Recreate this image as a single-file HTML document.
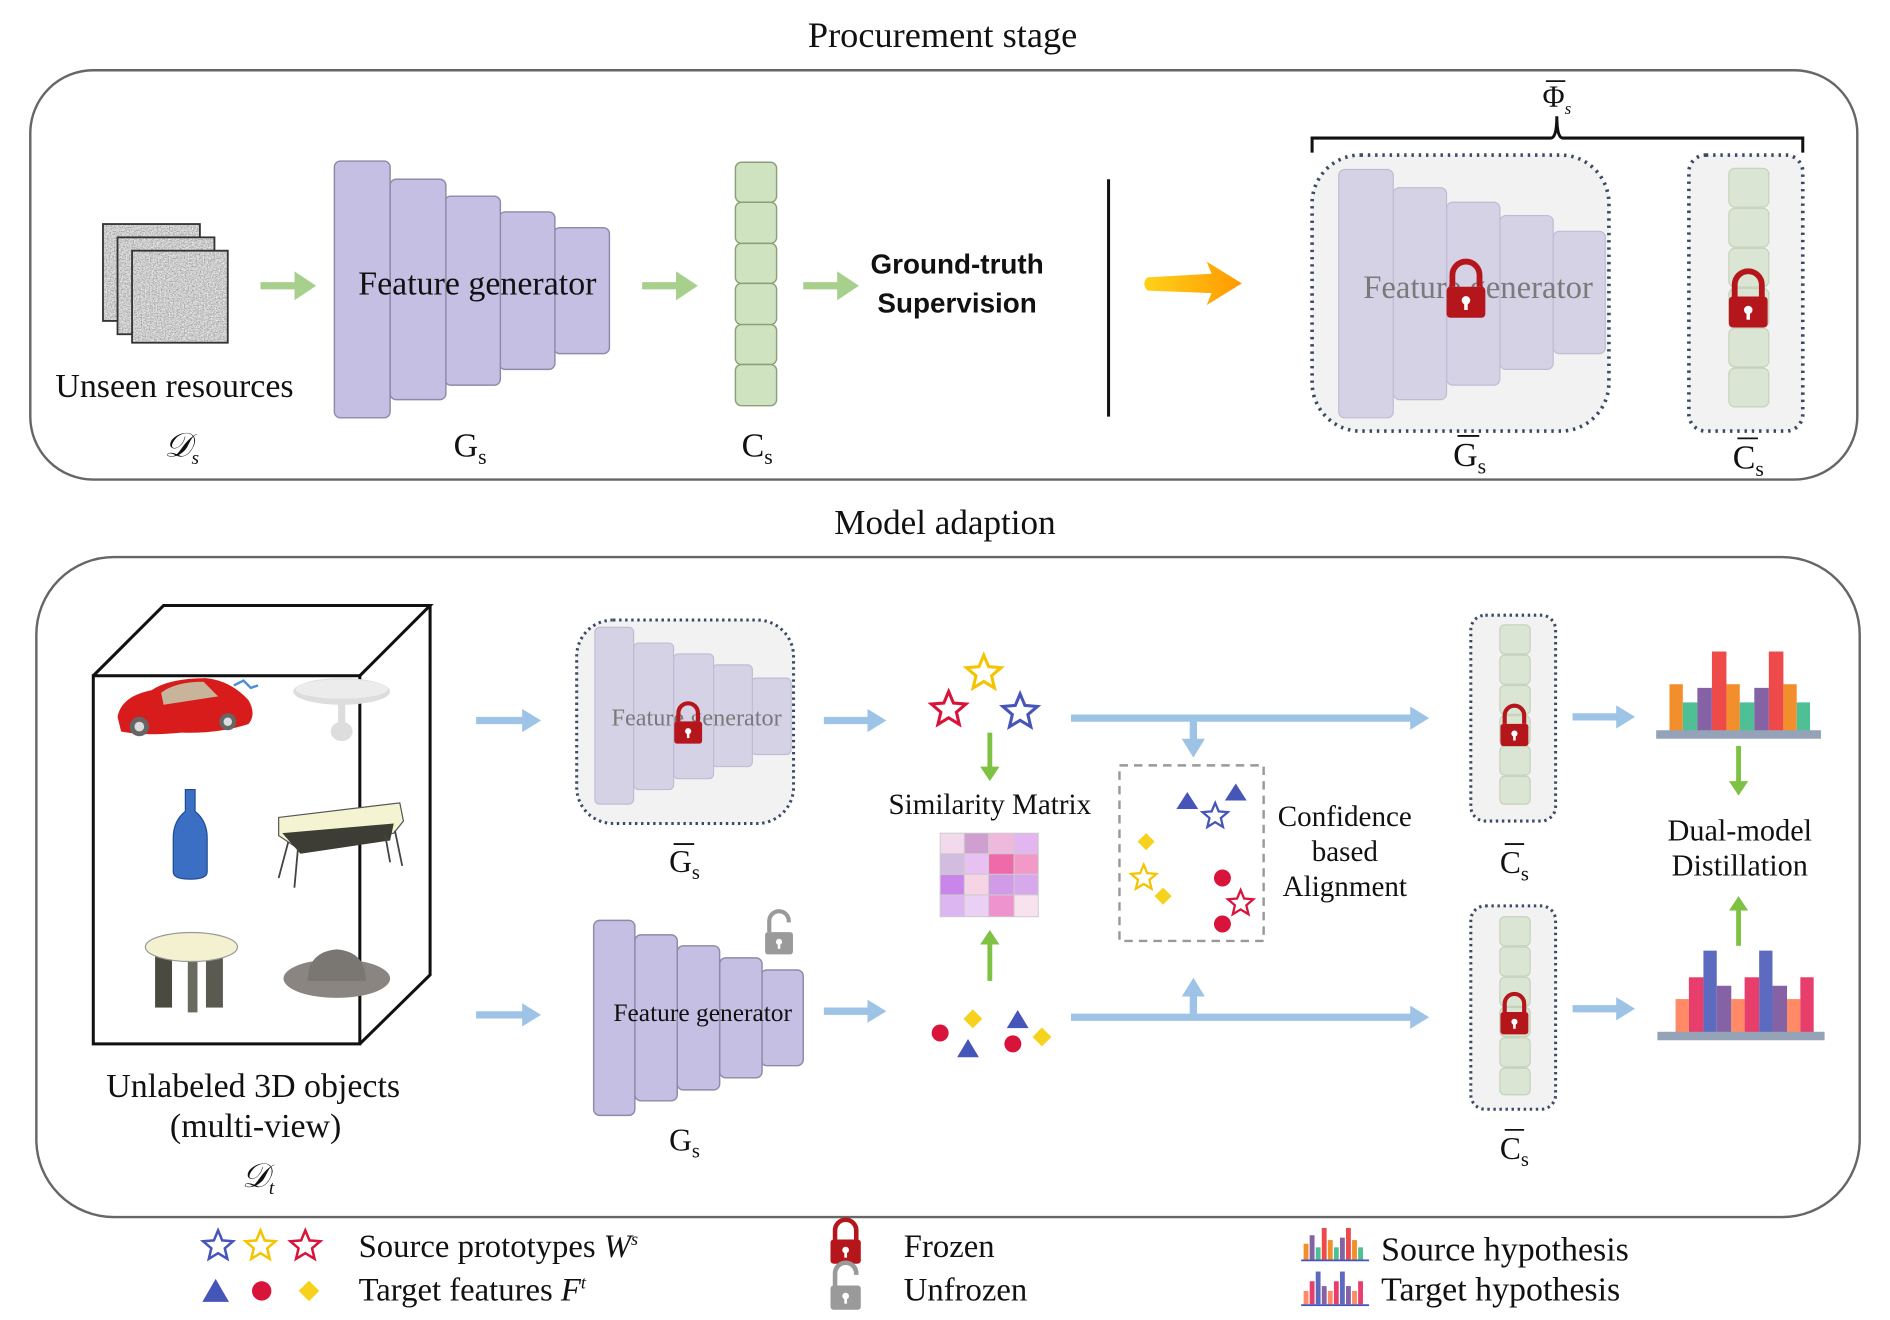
<!DOCTYPE html>
<html><head><meta charset="utf-8"><style>
html,body{margin:0;padding:0;background:#fff;}
svg{display:block;}
text{font-family:"Liberation Serif",serif;fill:#111;}
.sans{font-family:"Liberation Sans",sans-serif;}
</style></head><body>
<svg width="1890" height="1320" viewBox="0 0 1560 1090" preserveAspectRatio="none" xmlns="http://www.w3.org/2000/svg">
<defs>
<filter id="noise" x="0" y="0" width="100%" height="100%">
<feTurbulence type="fractalNoise" baseFrequency="0.9" numOctaves="2" seed="3"/>
<feColorMatrix type="saturate" values="0"/>
<feComponentTransfer><feFuncR type="linear" slope="1.3" intercept="-0.05"/><feFuncG type="linear" slope="1.3" intercept="-0.05"/><feFuncB type="linear" slope="1.3" intercept="-0.05"/><feFuncA type="linear" slope="0" intercept="1"/></feComponentTransfer>
</filter>
<g id="lock"><path d="M-7,-2 v-6 a7,7 0 0 1 14,0 v6" fill="none" stroke="#b5161b" stroke-width="3"/><rect x="-10" y="-2" width="20" height="16" rx="2" fill="#b5161b"/><circle cx="0" cy="5" r="2.2" fill="#fff"/><rect x="-0.9" y="5" width="1.8" height="5" fill="#fff"/></g>
<g id="unlock"><path d="M-7,-2 v-8 a7,7 0 0 1 14,0 v1" fill="none" stroke="#9a9a9a" stroke-width="3"/><rect x="-10" y="-2" width="20" height="16" rx="2" fill="#9a9a9a"/><circle cx="0" cy="5" r="2.2" fill="#fff"/><rect x="-0.9" y="5" width="1.8" height="5" fill="#fff"/></g>
<polygon id="star" points="0,-1 0.2645,-0.364 0.951,-0.309 0.428,0.139 0.588,0.809 0,0.45 -0.588,0.809 -0.428,0.139 -0.951,-0.309 -0.2645,-0.364"/>
<marker id="ga" markerWidth="4" markerHeight="4" refX="1" refY="2" orient="auto" markerUnits="strokeWidth"><path d="M0,0 L3,2 L0,4 z" fill="#a8d08d"/></marker>
<marker id="ba" markerWidth="3.2" markerHeight="3.2" refX="1" refY="1.6" orient="auto" markerUnits="strokeWidth"><path d="M0,0 L2.6,1.6 L0,3.2 z" fill="#9dc3e6"/></marker>
<marker id="la" markerWidth="4" markerHeight="4" refX="1" refY="2" orient="auto" markerUnits="strokeWidth"><path d="M0,0 L3,2 L0,4 z" fill="#7dc242"/></marker>
<linearGradient id="yo" x1="0" x2="1"><stop offset="0" stop-color="#ffd11a"/><stop offset="1" stop-color="#ff9900"/></linearGradient>
</defs>

<text x="778" y="39" font-size="30" text-anchor="middle">Procurement stage</text>
<rect x="25" y="58" width="1508" height="338" rx="52" fill="none" stroke="#666" stroke-width="2"/>

<g stroke="#333" stroke-width="1.5">
<rect x="85" y="185" width="80" height="80" fill="#999" filter="url(#noise)"/><rect x="85" y="185" width="80" height="80" fill="none"/>
<rect x="97" y="196" width="80" height="80" fill="#999" filter="url(#noise)"/><rect x="97" y="196" width="80" height="80" fill="none"/>
<rect x="109" y="207" width="79" height="76" fill="#999" filter="url(#noise)"/><rect x="109" y="207" width="79" height="76" fill="none"/>
</g>
<text x="144" y="328" font-size="28" text-anchor="middle">Unseen resources</text>
<text x="150" y="377" font-size="28" font-style="italic" text-anchor="middle">𝒟<tspan font-size="16" dy="6">s</tspan></text>

<g stroke="#a8d08d" stroke-width="6" fill="none">
<line x1="215" y1="236" x2="249" y2="236" marker-end="url(#ga)"/>
<line x1="530" y1="236" x2="564" y2="236" marker-end="url(#ga)"/>
<line x1="663" y1="236" x2="697" y2="236" marker-end="url(#ga)"/>
</g>

<g fill="#c5bfe3" stroke="#8f8aa8" stroke-width="1.2">
<rect x="457" y="188" width="46" height="104" rx="5"/>
<rect x="412" y="175" width="46" height="130" rx="5"/>
<rect x="367" y="162" width="46" height="156" rx="5"/>
<rect x="322" y="148" width="46" height="182" rx="5"/>
<rect x="276" y="133" width="46" height="212" rx="5"/>
</g>
<text x="394" y="243" font-size="28" text-anchor="middle">Feature generator</text>
<text x="388" y="377" font-size="28" text-anchor="middle">G<tspan font-size="18" dy="6">s</tspan></text>

<g fill="#cfe3c0" stroke="#8aa07a" stroke-width="1.2">
<rect x="607" y="134" width="34" height="33" rx="5"/><rect x="607" y="167" width="34" height="34" rx="5"/>
<rect x="607" y="201" width="34" height="33" rx="5"/><rect x="607" y="234" width="34" height="34" rx="5"/>
<rect x="607" y="268" width="34" height="33" rx="5"/><rect x="607" y="301" width="34" height="34" rx="5"/>
</g>
<text x="625" y="377" font-size="28" text-anchor="middle">C<tspan font-size="18" dy="6">s</tspan></text>

<text x="790" y="226" font-size="23" text-anchor="middle" class="sans" font-weight="600">Ground-truth</text>
<text x="790" y="258" font-size="23" text-anchor="middle" class="sans" font-weight="600">Supervision</text>
<line x1="915" y1="148" x2="915" y2="344" stroke="#111" stroke-width="2.5"/>
<path d="M947,229 L1000,226 L996,216 L1025,234 L996,252 L1000,242 L947,240 Q942,234 947,229z" fill="url(#yo)"/>

<rect x="1083" y="128" width="245" height="228" rx="40" fill="#f2f2f2" stroke="#3d4a66" stroke-width="3" stroke-dasharray="2 4"/>
<g fill="#d5d2e5" stroke="#c0bcd4" stroke-width="1">
<rect x="1282" y="191" width="43" height="101" rx="5"/>
<rect x="1238" y="178" width="44" height="127" rx="5"/>
<rect x="1194" y="167" width="44" height="151" rx="5"/>
<rect x="1150" y="155" width="44" height="175" rx="5"/>
<rect x="1105" y="140" width="45" height="205" rx="5"/>
</g>
<text x="1220" y="246" font-size="27" text-anchor="middle" style="fill:#7a7a7a">Feature generator</text>
<use href="#lock" transform="translate(1210,240) scale(1.6)"/>
<text x="1213" y="385" font-size="28" text-anchor="middle">G<tspan font-size="18" dy="6">s</tspan></text>
<line x1="1203" y1="360" x2="1221" y2="360" stroke="#111" stroke-width="1.5"/>

<rect x="1394" y="128" width="94" height="228" rx="14" fill="#f2f2f2" stroke="#3d4a66" stroke-width="3" stroke-dasharray="2 4"/>
<g fill="#dbe5d3" stroke="#c4d2bb" stroke-width="1">
<rect x="1427" y="139" width="33" height="32" rx="5"/><rect x="1427" y="172" width="33" height="32" rx="5"/>
<rect x="1427" y="205" width="33" height="32" rx="5"/><rect x="1427" y="238" width="33" height="32" rx="5"/>
<rect x="1427" y="271" width="33" height="32" rx="5"/><rect x="1427" y="304" width="33" height="32" rx="5"/>
</g>
<use href="#lock" transform="translate(1443,248) scale(1.6)"/>
<text x="1443" y="387" font-size="28" text-anchor="middle">C<tspan font-size="18" dy="6">s</tspan></text>
<line x1="1434" y1="362" x2="1451" y2="362" stroke="#111" stroke-width="1.5"/>

<path d="M1083,126 V114 H1280 Q1285,114 1285,96 Q1285,114 1290,114 H1488 V126" fill="none" stroke="#111" stroke-width="2.5"/>
<text x="1285" y="88" font-size="25" text-anchor="middle">Φ<tspan font-size="14" font-style="italic" dy="6">s</tspan></text>
<line x1="1276" y1="67" x2="1292" y2="67" stroke="#111" stroke-width="1.5"/>

<text x="780" y="441" font-size="29" text-anchor="middle">Model adaption</text>
<rect x="30" y="460" width="1505" height="545" rx="64" fill="none" stroke="#666" stroke-width="2"/>

<g fill="none" stroke="#111" stroke-width="2.5">
<rect x="77" y="558" width="220" height="304"/>
<path d="M77,558 L135,500 L355,500 L297,558 M355,500 L355,805 L297,862"/>
</g>
<g>
<path d="M97,592 Q100,575 125,570 Q140,560 170,560 Q190,562 205,578 Q212,590 205,598 Q180,606 150,605 Q120,608 100,604z" fill="#d81b1b"/>
<path d="M133,572 Q145,563 168,563 L180,575 L135,582z" fill="#c8b49a"/>
<circle cx="115" cy="600" r="8" fill="#666"/><circle cx="115" cy="600" r="4" fill="#ddd"/>
<circle cx="188" cy="596" r="7" fill="#666"/><circle cx="188" cy="596" r="3.5" fill="#ddd"/>
<path d="M193,566 l8,-4 l6,6 l6,-2" stroke="#4a8fd8" stroke-width="2" fill="none"/>
<ellipse cx="282" cy="571" rx="40" ry="11" fill="#ddd"/><ellipse cx="282" cy="569" rx="38" ry="8" fill="#ececec"/>
<rect x="279" y="578" width="6" height="22" fill="#ddd"/><ellipse cx="282" cy="604" rx="9" ry="8" fill="#ddd"/>
<path d="M153,652 h8 v18 q10,8 10,22 v28 q0,6 -14,6 q-14,0 -14,-6 v-28 q0,-14 10,-22z" fill="#3a6fc4" stroke="#1f4c94" stroke-width="1"/>
<path d="M230,675 L330,663 L333,678 L325,688 L245,700 L230,690z" fill="#f4f4d2" stroke="#555" stroke-width="1"/>
<path d="M233,688 L325,680 L322,694 L248,705z" fill="#3d3d35"/>
<path d="M238,695 L230,725 M246,700 L243,733 M318,690 L322,712 M326,686 L332,715" stroke="#444" stroke-width="1.5"/>
<rect x="128" y="782" width="14" height="50" fill="#4a4a40"/><rect x="170" y="782" width="14" height="50" fill="#5a5a50"/><rect x="155" y="790" width="8" height="46" fill="#6a6a60"/>
<ellipse cx="158" cy="782" rx="38" ry="12" fill="#f3f1cf" stroke="#999" stroke-width="1"/>
<ellipse cx="278" cy="808" rx="44" ry="16" fill="#8a8580"/><path d="M254,810 Q254,786 278,784 Q302,786 302,810z" fill="#7a7672"/>
</g>
<text x="209" y="906" font-size="28" text-anchor="middle">Unlabeled 3D objects</text>
<text x="211" y="939" font-size="28" text-anchor="middle">(multi-view)</text>
<text x="213" y="980" font-size="28" font-style="italic" text-anchor="middle">𝒟<tspan font-size="16" dy="6">t</tspan></text>

<g stroke="#9dc3e6" stroke-width="6" fill="none">
<line x1="393" y1="595" x2="437" y2="595" marker-end="url(#ba)"/>
<line x1="680" y1="595" x2="722" y2="595" marker-end="url(#ba)"/>
<line x1="393" y1="838" x2="437" y2="838" marker-end="url(#ba)"/>
<line x1="680" y1="835" x2="722" y2="835" marker-end="url(#ba)"/>
<line x1="884" y1="593" x2="1170" y2="593" marker-end="url(#ba)"/>
<line x1="884" y1="840" x2="1170" y2="840" marker-end="url(#ba)"/>
<line x1="1298" y1="592" x2="1340" y2="592" marker-end="url(#ba)"/>
<line x1="1298" y1="833" x2="1340" y2="833" marker-end="url(#ba)"/>
<line x1="985" y1="593" x2="985" y2="616" marker-end="url(#ba)"/>
<line x1="985" y1="840" x2="985" y2="817" marker-end="url(#ba)"/>
</g>

<rect x="476" y="512" width="179" height="168" rx="30" fill="#f2f2f2" stroke="#3d4a66" stroke-width="2.5" stroke-dasharray="2 3"/>
<g fill="#d5d2e5" stroke="#c0bcd4" stroke-width="1">
<rect x="620" y="560" width="33" height="63" rx="4"/>
<rect x="588" y="549" width="33" height="84" rx="4"/>
<rect x="556" y="540" width="33" height="103" rx="4"/>
<rect x="523" y="531" width="33" height="121" rx="4"/>
<rect x="491" y="518" width="32" height="146" rx="4"/>
</g>
<text x="575" y="599" font-size="20" text-anchor="middle" style="fill:#7a7a7a">Feature generator</text>
<use href="#lock" transform="translate(568,598) scale(1.15)"/>
<text x="565" y="720" font-size="26" text-anchor="middle">G<tspan font-size="17" dy="6">s</tspan></text>
<line x1="556" y1="697" x2="573" y2="697" stroke="#111" stroke-width="1.5"/>

<g fill="#c5bfe3" stroke="#8f8aa8" stroke-width="1.2">
<rect x="628" y="801" width="35" height="79" rx="5"/>
<rect x="594" y="791" width="35" height="99" rx="5"/>
<rect x="559" y="781" width="35" height="119" rx="5"/>
<rect x="524" y="772" width="35" height="137" rx="5"/>
<rect x="490" y="760" width="34" height="161" rx="5"/>
</g>
<text x="580" y="843" font-size="21" text-anchor="middle">Feature generator</text>
<use href="#unlock" transform="translate(643,772) scale(1.15)"/>
<text x="565" y="950" font-size="26" text-anchor="middle">G<tspan font-size="17" dy="6">s</tspan></text>

<g fill="none">
<use href="#star" transform="translate(812,556) scale(15)" stroke="#f5c400" style="stroke-width:0.17"/>
<use href="#star" transform="translate(783,586) scale(15)" stroke="#d8143a" style="stroke-width:0.17"/>
<use href="#star" transform="translate(842,588) scale(15)" stroke="#4655b8" style="stroke-width:0.17"/>
</g>
<g stroke="#7dc242" stroke-width="4" fill="none">
<line x1="817" y1="605" x2="817" y2="637" marker-end="url(#la)"/>
<line x1="817" y1="810" x2="817" y2="776" marker-end="url(#la)"/>
<line x1="1435" y1="616" x2="1435" y2="649" marker-end="url(#la)"/>
<line x1="1435" y1="781" x2="1435" y2="748" marker-end="url(#la)"/>
</g>
<text x="817" y="672" font-size="24" text-anchor="middle">Similarity Matrix</text>
<g stroke="#ccc" stroke-width="0.8">
<rect x="776" y="688" width="20" height="17" fill="#f2d9ec"/><rect x="796" y="688" width="20" height="17" fill="#cf9fcf"/><rect x="816" y="688" width="21" height="17" fill="#eeb9dc"/><rect x="837" y="688" width="20" height="17" fill="#e3b6f0"/>
<rect x="776" y="705" width="20" height="17" fill="#d2bde0"/><rect x="796" y="705" width="20" height="17" fill="#e8c1f2"/><rect x="816" y="705" width="21" height="17" fill="#ef6aa8"/><rect x="837" y="705" width="20" height="17" fill="#f29ac7"/>
<rect x="776" y="722" width="20" height="17" fill="#c985ea"/><rect x="796" y="722" width="20" height="17" fill="#f7d3e6"/><rect x="816" y="722" width="21" height="17" fill="#d19be8"/><rect x="837" y="722" width="20" height="17" fill="#d8a8ec"/>
<rect x="776" y="739" width="20" height="18" fill="#dcb6f0"/><rect x="796" y="739" width="20" height="18" fill="#ead0f5"/><rect x="816" y="739" width="21" height="18" fill="#ef93cf"/><rect x="837" y="739" width="20" height="18" fill="#f8e2ee"/>
</g>

<circle cx="776" cy="853" r="7" fill="#d8143a"/>
<rect x="797" y="836" width="11" height="11" fill="#f7d21c" transform="rotate(45 803 842)"/>
<polygon points="840,834 849,849 831,849" fill="#4655b8"/>
<circle cx="836" cy="862" r="7" fill="#d8143a"/>
<polygon points="799,858 808,873 790,873" fill="#4655b8"/>
<rect x="854" y="851" width="11" height="11" fill="#f7d21c" transform="rotate(45 860 857)"/>

<rect x="924" y="632" width="119" height="145" fill="none" stroke="#999" stroke-width="2" stroke-dasharray="7 5"/>
<polygon points="980,654 989,668 971,668" fill="#4655b8"/>
<polygon points="1020,647 1029,661 1011,661" fill="#4655b8"/>
<use href="#star" transform="translate(1003,674) scale(11)" fill="none" stroke="#4655b8" style="stroke-width:0.17"/>
<rect x="941" y="690" width="10" height="10" fill="#f7d21c" transform="rotate(45 946 695)"/>
<use href="#star" transform="translate(944,725) scale(11)" fill="none" stroke="#f5c400" style="stroke-width:0.17"/>
<rect x="955" y="735" width="10" height="10" fill="#f7d21c" transform="rotate(45 960 740)"/>
<circle cx="1009" cy="725" r="7" fill="#d8143a"/>
<use href="#star" transform="translate(1024,746) scale(11)" fill="none" stroke="#d8143a" style="stroke-width:0.17"/>
<circle cx="1009" cy="763" r="7" fill="#d8143a"/>
<text x="1110" y="682" font-size="24" text-anchor="middle">Confidence</text>
<text x="1110" y="711" font-size="24" text-anchor="middle">based</text>
<text x="1110" y="740" font-size="24" text-anchor="middle">Alignment</text>

<rect x="1214" y="508" width="70" height="170" rx="12" fill="#f2f2f2" stroke="#3d4a66" stroke-width="2.5" stroke-dasharray="2 3"/>
<g fill="#dbe5d3" stroke="#c4d2bb" stroke-width="1">
<rect x="1238" y="516" width="25" height="24" rx="4"/><rect x="1238" y="541" width="25" height="24" rx="4"/><rect x="1238" y="566" width="25" height="24" rx="4"/>
<rect x="1238" y="591" width="25" height="24" rx="4"/><rect x="1238" y="616" width="25" height="24" rx="4"/><rect x="1238" y="641" width="25" height="23" rx="4"/>
</g>
<use href="#lock" transform="translate(1250,600) scale(1.15)"/>
<text x="1250" y="721" font-size="26" text-anchor="middle">C<tspan font-size="17" dy="6">s</tspan></text>
<line x1="1242" y1="697" x2="1258" y2="697" stroke="#111" stroke-width="1.5"/>

<rect x="1214" y="748" width="70" height="168" rx="12" fill="#f2f2f2" stroke="#3d4a66" stroke-width="2.5" stroke-dasharray="2 3"/>
<g fill="#dbe5d3" stroke="#c4d2bb" stroke-width="1">
<rect x="1238" y="757" width="25" height="24" rx="4"/><rect x="1238" y="782" width="25" height="24" rx="4"/><rect x="1238" y="807" width="25" height="24" rx="4"/>
<rect x="1238" y="832" width="25" height="24" rx="4"/><rect x="1238" y="857" width="25" height="24" rx="4"/><rect x="1238" y="882" width="25" height="22" rx="4"/>
</g>
<use href="#lock" transform="translate(1250,838) scale(1.15)"/>
<text x="1250" y="957" font-size="26" text-anchor="middle">C<tspan font-size="17" dy="6">s</tspan></text>
<line x1="1242" y1="933" x2="1258" y2="933" stroke="#111" stroke-width="1.5"/>

<g>
<rect x="1378" y="565" width="11" height="39" fill="#f28e2b"/><rect x="1389" y="580" width="12" height="24" fill="#4fbf95"/><rect x="1401" y="568" width="12" height="36" fill="#8462a4"/><rect x="1413" y="538" width="12" height="66" fill="#ee4a4a"/><rect x="1425" y="565" width="11" height="39" fill="#f28e2b"/><rect x="1436" y="580" width="12" height="24" fill="#4fbf95"/><rect x="1448" y="568" width="12" height="36" fill="#8462a4"/><rect x="1460" y="538" width="12" height="66" fill="#ee4a4a"/><rect x="1472" y="565" width="11" height="39" fill="#f28e2b"/><rect x="1483" y="580" width="11" height="24" fill="#4fbf95"/>
<rect x="1367" y="603" width="136" height="7" fill="#94a3b8"/>
<rect x="1383" y="825" width="11" height="28" fill="#ff8a65"/><rect x="1394" y="807" width="12" height="46" fill="#e83e6c"/><rect x="1406" y="785" width="11" height="68" fill="#5c6bc0"/><rect x="1417" y="814" width="12" height="39" fill="#8462a4"/><rect x="1429" y="825" width="11" height="28" fill="#ff8a65"/><rect x="1440" y="807" width="12" height="46" fill="#e83e6c"/><rect x="1452" y="785" width="11" height="68" fill="#5c6bc0"/><rect x="1463" y="814" width="12" height="39" fill="#8462a4"/><rect x="1475" y="825" width="11" height="28" fill="#ff8a65"/><rect x="1486" y="807" width="11" height="46" fill="#e83e6c"/>
<rect x="1368" y="852" width="138" height="7" fill="#94a3b8"/>
</g>
<text x="1436" y="694" font-size="25" text-anchor="middle">Dual-model</text>
<text x="1436" y="723" font-size="25" text-anchor="middle">Distillation</text>

<use href="#star" transform="translate(180,1029) scale(13)" fill="none" stroke="#4655b8" style="stroke-width:0.16"/>
<use href="#star" transform="translate(215,1029) scale(13)" fill="none" stroke="#f5c400" style="stroke-width:0.16"/>
<use href="#star" transform="translate(252,1029) scale(13)" fill="none" stroke="#d8143a" style="stroke-width:0.16"/>
<text x="296" y="1038" font-size="27">Source prototypes  <tspan font-style="italic">W</tspan><tspan font-size="15" font-style="italic" dy="-10">s</tspan></text>
<polygon points="178,1056 189,1075 167,1075" fill="#4655b8"/>
<circle cx="216" cy="1066" r="8" fill="#d8143a"/>
<rect x="249" y="1060" width="12" height="12" fill="#f7d21c" transform="rotate(45 255 1066)"/>
<text x="296" y="1074" font-size="27">Target features  <tspan font-style="italic">F</tspan><tspan font-size="15" font-style="italic" dy="-10">t</tspan></text>
<use href="#lock" transform="translate(698,1026) scale(1.25)"/>
<text x="746" y="1038" font-size="27">Frozen</text>
<use href="#unlock" transform="translate(698,1064) scale(1.25)"/>
<text x="746" y="1074" font-size="27">Unfrozen</text>
<g>
<rect x="1076" y="1027" width="4" height="13" fill="#f28e2b"/><rect x="1081" y="1020" width="4" height="20" fill="#8462a4"/><rect x="1086" y="1030" width="4" height="10" fill="#4fbf95"/><rect x="1091" y="1014" width="4" height="26" fill="#ee4a4a"/><rect x="1096" y="1024" width="4" height="16" fill="#f28e2b"/><rect x="1101" y="1030" width="4" height="10" fill="#4fbf95"/><rect x="1106" y="1022" width="4" height="18" fill="#8462a4"/><rect x="1111" y="1014" width="4" height="26" fill="#ee4a4a"/><rect x="1116" y="1024" width="4" height="16" fill="#f28e2b"/><rect x="1121" y="1030" width="4" height="10" fill="#4fbf95"/>
<rect x="1074" y="1040" width="56" height="1.5" fill="#4655b8"/>
<rect x="1076" y="1066" width="4" height="11" fill="#ff8a65"/><rect x="1081" y="1058" width="4" height="19" fill="#e83e6c"/><rect x="1086" y="1050" width="4" height="27" fill="#5c6bc0"/><rect x="1091" y="1062" width="4" height="15" fill="#8462a4"/><rect x="1096" y="1066" width="4" height="11" fill="#ff8a65"/><rect x="1101" y="1058" width="4" height="19" fill="#e83e6c"/><rect x="1106" y="1050" width="4" height="27" fill="#5c6bc0"/><rect x="1111" y="1062" width="4" height="15" fill="#8462a4"/><rect x="1116" y="1066" width="4" height="11" fill="#ff8a65"/><rect x="1121" y="1058" width="4" height="19" fill="#e83e6c"/>
<rect x="1074" y="1077" width="56" height="1.5" fill="#4655b8"/>
</g>
<text x="1140" y="1041" font-size="28">Source hypothesis</text>
<text x="1140" y="1074" font-size="28">Target hypothesis</text>
</svg>
</body></html>
